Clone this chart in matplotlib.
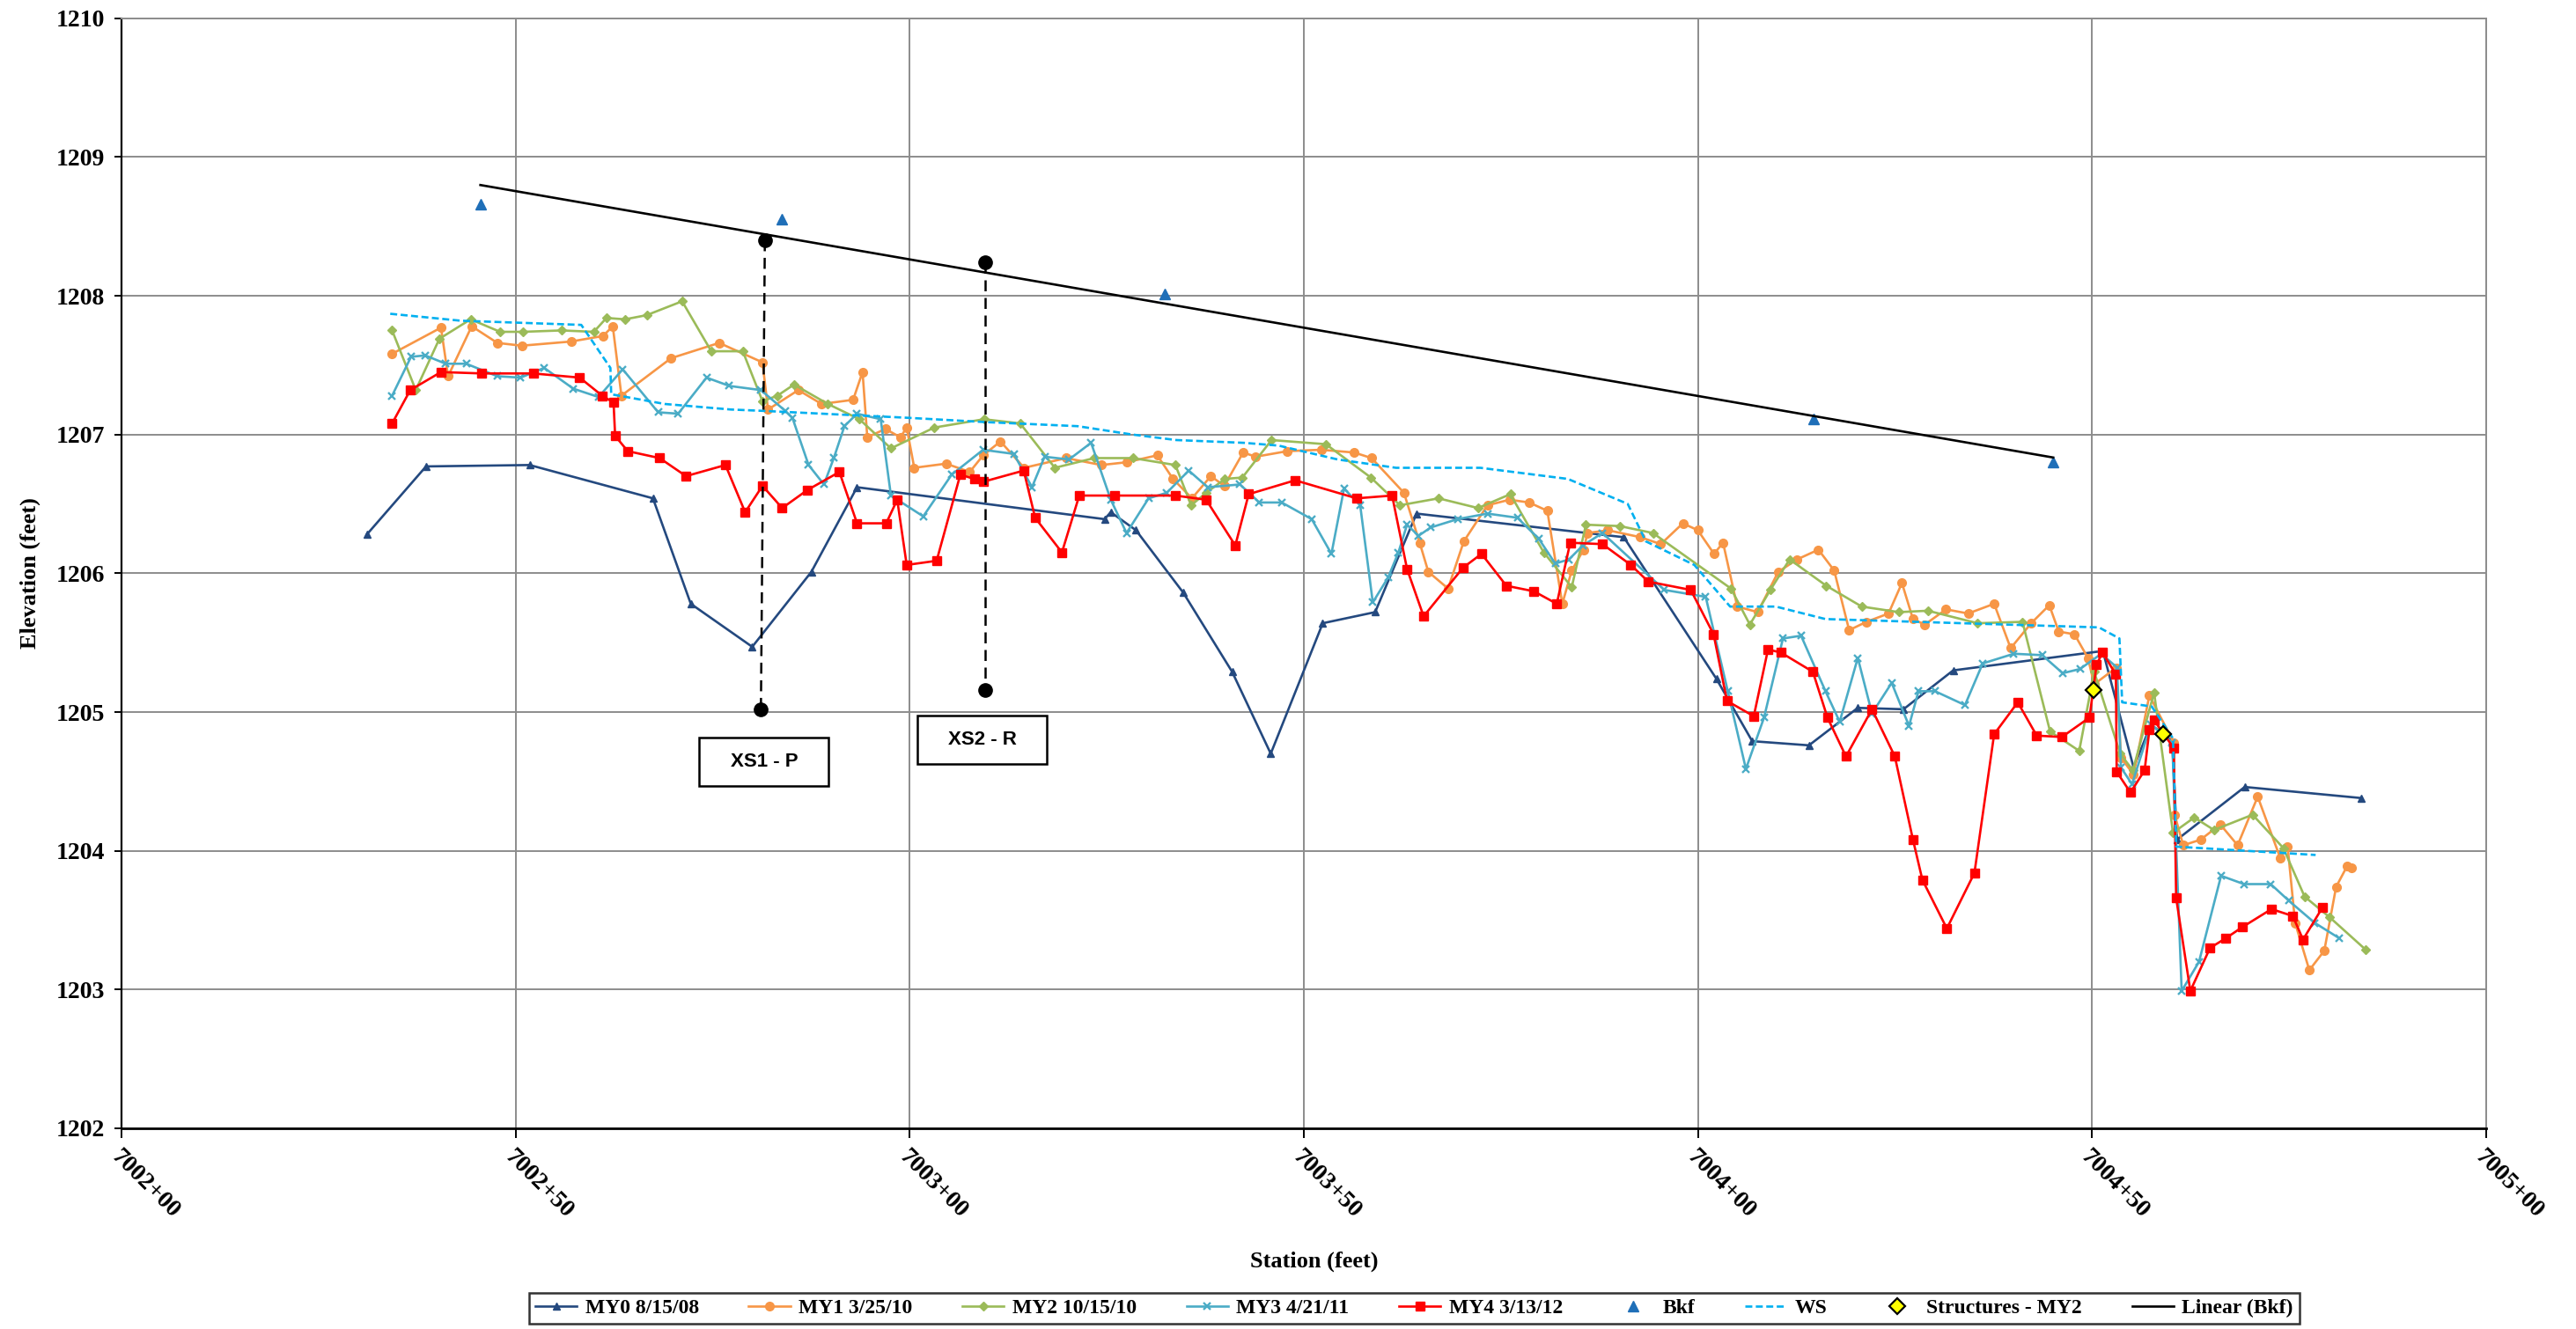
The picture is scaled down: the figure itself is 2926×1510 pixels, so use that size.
import matplotlib
matplotlib.use("Agg")
import matplotlib.pyplot as plt
from matplotlib.patches import Rectangle
from matplotlib.ticker import FuncFormatter, MultipleLocator
import numpy as np

# stations are feet past 7002+00
STA0 = 700200

my0_sta = [31.1, 38.6, 51.75, 67.4, 72.2, 80.0, 87.5, 93.3, 124.7, 125.5, 128.7, 134.7,
           140.9, 145.8, 152.4, 159.05, 164.3, 190.6, 202.35, 206.9, 214.1, 220.3, 226.1,
           232.4, 251.4, 255.3, 257.5, 260.2, 260.8, 269.4, 284.2]
my0_elev = [1206.28, 1206.77, 1206.78, 1206.54, 1205.78, 1205.47, 1206.01, 1206.62, 1206.39,
            1206.44, 1206.31, 1205.86, 1205.29, 1204.70, 1205.64, 1205.72, 1206.43, 1206.26,
            1205.24, 1204.79, 1204.76, 1205.03, 1205.02, 1205.30, 1205.44, 1204.60, 1204.91,
            1204.79, 1204.08, 1204.46, 1204.38]

my1_sta = [34.25, 40.5, 41.4, 44.4, 47.65, 50.75, 57.0, 61.06, 62.3, 63.4, 69.7, 75.8, 81.3,
           82.0, 85.85, 88.8, 92.8, 94.0, 94.6, 96.9, 98.8, 99.6, 100.56, 104.6, 107.6, 109.3,
           111.5, 114.5, 119.85, 124.3, 127.5, 131.4, 133.4, 135.8, 138.2, 139.9, 142.3, 143.9,
           147.9, 152.2, 156.4, 158.6, 162.7, 164.7, 165.8, 168.3, 170.3, 173.3, 176.1, 178.6,
           180.9, 182.8, 184.0, 185.5, 186.0, 188.6, 192.7, 195.3, 198.1, 200.0, 202.05, 203.2,
           205.0, 207.6, 210.2, 212.6, 215.3, 217.3, 219.2, 221.4, 224.2, 225.9, 227.3, 228.8,
           231.5, 234.3, 237.6, 239.7, 242.3, 244.6, 245.8, 247.8, 249.5, 250.3, 253.1, 253.7,
           255.3, 257.3, 260.4, 260.5, 261.6, 263.8, 266.3, 268.5, 271.05, 273.9, 274.85, 275.8,
           277.6, 279.5, 281.0, 282.4, 283.0]
my1_elev = [1207.58, 1207.77, 1207.42, 1207.78, 1207.66, 1207.64, 1207.67, 1207.71, 1207.78,
            1207.28, 1207.55, 1207.66, 1207.52, 1207.18, 1207.32, 1207.22, 1207.25, 1207.45,
            1206.98, 1207.04, 1206.98, 1207.05, 1206.76, 1206.79, 1206.73, 1206.85, 1206.95,
            1206.76, 1206.83, 1206.78, 1206.80, 1206.85, 1206.68, 1206.54, 1206.70, 1206.63,
            1206.87, 1206.84, 1206.88, 1206.89, 1206.87, 1206.83, 1206.58, 1206.22, 1206.01,
            1205.89, 1206.23, 1206.49, 1206.53, 1206.51, 1206.45, 1205.78, 1206.02, 1206.17,
            1206.29, 1206.31, 1206.26, 1206.21, 1206.36, 1206.31, 1206.14, 1206.22, 1205.76,
            1205.72, 1206.01, 1206.10, 1206.17, 1206.02, 1205.59, 1205.65, 1205.71, 1205.93,
            1205.67, 1205.63, 1205.74, 1205.71, 1205.78, 1205.46, 1205.64, 1205.77, 1205.58,
            1205.56, 1205.39, 1205.20, 1205.32, 1204.67, 1204.55, 1205.12, 1204.78, 1204.26,
            1204.04, 1204.08, 1204.19, 1204.04, 1204.39, 1203.95, 1204.03, 1203.48, 1203.14,
            1203.28, 1203.74, 1203.89, 1203.88]

my2_sta = [34.3, 37.3, 40.3, 44.26, 48.0, 50.9, 55.8, 59.9, 61.5, 63.85, 66.6, 71.1, 74.8,
           78.8, 81.3, 83.2, 85.3, 89.6, 93.6, 97.6, 103.1, 109.4, 114.0, 118.4, 123.4, 128.3,
           133.7, 135.7, 137.6, 140.0, 142.2, 145.9, 152.8, 158.5, 162.2, 167.1, 172.1, 176.2,
           180.45, 184.0, 185.8, 190.1, 194.3, 204.2, 206.6, 209.2, 211.65, 216.3, 220.8, 225.5,
           229.2, 235.5, 241.2, 244.7, 248.4, 250.3, 253.6, 255.2, 257.9, 260.3, 263.0, 265.5,
           270.4, 274.3, 277.0, 280.2, 284.7]
my2_elev = [1207.75, 1207.32, 1207.69, 1207.83, 1207.74, 1207.74, 1207.75, 1207.74, 1207.84,
            1207.83, 1207.86, 1207.96, 1207.60, 1207.60, 1207.24, 1207.28, 1207.36, 1207.22,
            1207.11, 1206.90, 1207.05, 1207.11, 1207.08, 1206.76, 1206.83, 1206.83, 1206.78,
            1206.49, 1206.58, 1206.68, 1206.69, 1206.96, 1206.93, 1206.69, 1206.49, 1206.54,
            1206.47, 1206.57, 1206.15, 1205.90, 1206.35, 1206.34, 1206.29, 1205.89, 1205.63,
            1205.88, 1206.10, 1205.91, 1205.76, 1205.72, 1205.73, 1205.64, 1205.65, 1204.86,
            1204.72, 1205.29, 1204.70, 1204.58, 1205.14, 1204.13, 1204.24, 1204.15, 1204.26,
            1204.02, 1203.67, 1203.52, 1203.29]

my3_sta = [34.3, 36.7, 38.5, 41.1, 43.7, 47.65, 50.6, 53.6, 57.3, 60.5, 63.56, 68.06, 70.6,
           74.2, 77.1, 81.1, 84.2, 85.1, 87.15, 89.1, 90.35, 91.7, 93.3, 96.3, 97.6, 101.7,
           105.3, 109.3, 113.2, 115.5, 117.1, 120.2, 123.0, 125.5, 127.5, 130.3, 132.6, 135.4,
           137.8, 141.9, 144.35, 147.2, 151.0, 153.5, 155.1, 157.15, 158.75, 160.7, 162.0, 163.1,
           164.55, 166.1, 169.5, 173.3, 177.1, 179.8, 181.9, 183.65, 185.4, 187.9, 195.75, 201.0,
           203.8, 206.1, 208.4, 210.8, 213.1, 216.2, 218.0, 220.3, 222.1, 224.6, 226.8, 228.0,
           230.1, 233.9, 236.15, 240.1, 243.7, 246.3, 248.5, 251.2, 253.2, 253.7, 255.1, 257.5,
           260.2, 261.4, 263.6, 266.4, 269.3, 272.7, 275.0, 278.3, 281.4]
my3_elev = [1207.28, 1207.56, 1207.57, 1207.51, 1207.51, 1207.42, 1207.41, 1207.48, 1207.33,
            1207.27, 1207.47, 1207.16, 1207.15, 1207.41, 1207.35, 1207.32, 1207.17, 1207.12,
            1206.78, 1206.64, 1206.83, 1207.06, 1207.15, 1207.11, 1206.56, 1206.41, 1206.71,
            1206.89, 1206.86, 1206.62, 1206.84, 1206.82, 1206.94, 1206.53, 1206.29, 1206.54,
            1206.58, 1206.74, 1206.62, 1206.64, 1206.51, 1206.51, 1206.39, 1206.14, 1206.61,
            1206.49, 1205.79, 1205.97, 1206.15, 1206.35, 1206.27, 1206.33, 1206.39, 1206.43,
            1206.40, 1206.25, 1206.07, 1206.10, 1206.20, 1206.29, 1205.88, 1205.83, 1205.15,
            1204.59, 1204.96, 1205.53, 1205.55, 1205.15, 1204.93, 1205.39, 1204.99, 1205.21,
            1204.90, 1205.15, 1205.15, 1205.05, 1205.35, 1205.42, 1205.41, 1205.28, 1205.31,
            1205.42, 1205.32, 1204.60, 1204.48, 1204.91, 1204.78, 1202.99, 1203.20, 1203.82,
            1203.76, 1203.76, 1203.64, 1203.48, 1203.37]

my4_sta = [34.3, 36.6, 40.5, 45.7, 52.2, 58.1, 60.95, 62.4, 62.6, 64.2, 68.25, 71.6, 76.6,
           79.1, 81.3, 83.8, 87.0, 91.06, 93.3, 97.0, 98.4, 99.6, 103.4, 106.4, 108.2, 109.35,
           114.45, 115.9, 119.3, 121.5, 126.0, 133.7, 137.6, 141.3, 143.0, 148.9, 156.7, 161.2,
           163.1, 165.2, 170.2, 172.55, 175.7, 179.2, 182.1, 183.8, 187.9, 191.5, 193.7, 199.1,
           202.0, 203.7, 207.1, 208.9, 210.5, 214.6, 216.45, 218.8, 222.1, 225.0, 227.3, 228.5,
           231.6, 235.1, 237.6, 240.6, 243.0, 246.2, 249.7, 250.6, 251.35, 253.05, 253.15, 254.9,
           256.7, 257.3, 257.9, 260.4, 260.7, 262.5, 265.0, 267.0, 269.1, 272.8, 275.5, 276.8,
           279.25]
my4_elev = [1207.08, 1207.32, 1207.45, 1207.44, 1207.44, 1207.41, 1207.28, 1207.23, 1206.99,
            1206.88, 1206.83, 1206.70, 1206.78, 1206.44, 1206.63, 1206.47, 1206.60, 1206.73,
            1206.36, 1206.36, 1206.53, 1206.06, 1206.09, 1206.71, 1206.68, 1206.66, 1206.74,
            1206.40, 1206.15, 1206.56, 1206.56, 1206.56, 1206.53, 1206.20, 1206.57, 1206.67,
            1206.54, 1206.56, 1206.03, 1205.69, 1206.04, 1206.14, 1205.91, 1205.87, 1205.78,
            1206.22, 1206.21, 1206.06, 1205.94, 1205.88, 1205.56, 1205.08, 1204.97, 1205.45,
            1205.43, 1205.29, 1204.96, 1204.68, 1205.02, 1204.68, 1204.08, 1203.79, 1203.44,
            1203.84, 1204.84, 1205.07, 1204.83, 1204.82, 1204.96, 1205.34, 1205.43, 1205.27,
            1204.57, 1204.42, 1204.58, 1204.87, 1204.94, 1204.74, 1203.66, 1202.99, 1203.30,
            1203.37, 1203.45, 1203.58, 1203.53, 1203.36, 1203.59]

bkf_sta = [45.5, 83.7, 132.4, 214.7, 245.1]
bkf_elev = [1208.66, 1208.55, 1208.01, 1207.11, 1206.80]

ws_sta = [34.06, 43.0, 58.3, 62.0, 62.1, 68.9, 77.3, 81.5, 99.9, 109.4, 121.3, 128.2, 133.8,
          142.4, 146.8, 154.3, 161.7, 172.4, 183.5, 191.1, 193.4, 199.55, 204.1, 209.9, 216.2,
          250.9, 253.5, 253.85, 257.6, 260.3, 260.7, 278.4]
ws_elev = [1207.87, 1207.82, 1207.79, 1207.48, 1207.29, 1207.22, 1207.18, 1207.17, 1207.12,
           1207.09, 1207.06, 1207.00, 1206.96, 1206.94, 1206.92, 1206.82, 1206.76, 1206.76,
           1206.68, 1206.50, 1206.23, 1206.06, 1205.76, 1205.76, 1205.67, 1205.61, 1205.53,
           1205.07, 1205.04, 1204.81, 1204.03, 1203.97]

struct_sta = [250.2, 259.0]
struct_elev = [1205.16, 1204.84]

# cross-section locations
xs_labels = ["XS1 - P", "XS2 - R"]
xs_sta_top = [81.6, 109.6]
xs_sta_bot = [81.1, 109.6]
xs_elev_top = [1208.40, 1208.24]
xs_elev_bot = [1205.02, 1205.16]
xs_box_sta = [81.5, 109.2]
xs_box_elev = [1204.64, 1204.80]

SERIF = ["Liberation Serif", "DejaVu Serif"]
plt.rcParams["font.family"] = SERIF
plt.rcParams["font.weight"] = "bold"

fig = plt.figure(figsize=(29.26, 15.10), dpi=100)
ax = fig.add_axes([0.0473, 0.1510, 0.9177, 0.8353])

lw = 1.9
ax.plot(my0_sta, my0_elev, color="#24497F", lw=lw, marker="^", ms=6, label="MY0 8/15/08")
ax.plot(my1_sta, my1_elev, color="#F79646", lw=lw, marker="o", ms=7, label="MY1 3/25/10")
ax.plot(my2_sta, my2_elev, color="#9BBB59", lw=lw, marker="D", ms=4.8, label="MY2 10/15/10")
ax.plot(my3_sta, my3_elev, color="#4BACC6", lw=lw, marker="x", ms=6, mew=1.7, label="MY3 4/21/11")
ax.plot(my4_sta, my4_elev, color="#FF0000", lw=lw, marker="s", ms=6.5, label="MY4 3/13/12")
ax.plot(bkf_sta, bkf_elev, ls="none", color="#1F6FB8", marker="^", ms=8, label="Bkf")
ax.plot(ws_sta, ws_elev, color="#00B0F0", lw=1.9, ls=(0, (3, 1.5)), label="WS")
ax.plot(struct_sta, struct_elev, ls="none", marker="D", ms=9, mfc="#FFFF00", mec="black",
        mew=1.6, label="Structures - MY2")

# linear trend of the bankfull points
coef = np.polyfit(bkf_sta, bkf_elev, 1)
fit_x = np.array([min(bkf_sta), max(bkf_sta)])
ax.plot(fit_x, np.polyval(coef, fit_x), color="black", lw=1.9, label="Linear (Bkf)")

# cross-section markers
for i, name in enumerate(xs_labels):
    ax.plot([xs_sta_top[i], xs_sta_bot[i]], [xs_elev_top[i], xs_elev_bot[i]],
            color="black", lw=1.8, ls=(0, (5, 3)), zorder=6)
    ax.plot([xs_sta_top[i], xs_sta_bot[i]], [xs_elev_top[i], xs_elev_bot[i]],
            ls="none", marker="o", ms=11, color="black", zorder=7)
    bw, bh = 16.4, 0.35
    ax.add_patch(Rectangle((xs_box_sta[i] - bw / 2, xs_box_elev[i] - bh / 2), bw, bh,
                           facecolor="white", edgecolor="black", lw=1.8, zorder=8))
    ax.text(xs_box_sta[i], xs_box_elev[i], name, ha="center", va="center", fontsize=16,
            fontweight="bold", family=["Liberation Sans", "DejaVu Sans"], zorder=9)

ax.set_xlim(0, 300)
ax.set_ylim(1202, 1210)
ax.xaxis.set_major_locator(MultipleLocator(50))
ax.yaxis.set_major_locator(MultipleLocator(1))


def station_fmt(v, pos):
    s = int(round(v + STA0))
    return f"{s // 100}+{s % 100:02d}"


ax.xaxis.set_major_formatter(FuncFormatter(station_fmt))
ax.grid(True, color="#8C8C8C", lw=1.4)
ax.set_axisbelow(True)
for side in ("top", "right"):
    ax.spines[side].set_color("#8C8C8C")
    ax.spines[side].set_linewidth(1.4)
ax.spines["left"].set_linewidth(1.6)
ax.spines["bottom"].set_linewidth(2.0)

ax.tick_params(axis="y", direction="out", length=6, width=1.4, labelsize=20, pad=8)
ax.tick_params(axis="x", direction="out", length=8, width=1.4, labelsize=20, pad=6)
for lab in ax.get_xticklabels():
    lab.set_rotation(-45)
    lab.set_ha("left")
    lab.set_va("top")
    lab.set_rotation_mode("anchor")
for lab in ax.get_xticklabels() + ax.get_yticklabels():
    lab.set_fontweight("bold")

fig.text(0.0116, 0.5689, "Elevation (feet)", rotation=90, ha="center", va="center",
         fontsize=19, fontweight="bold")
fig.text(0.5103, 0.0510, "Station (feet)", ha="center", va="center",
         fontsize=19, fontweight="bold")

leg = fig.legend(loc="center", bbox_to_anchor=(0.549, 0.0156), ncol=9,
                 frameon=True, fancybox=False, edgecolor="black", handlelength=2.0,
                 columnspacing=2.4, handletextpad=0.4, borderpad=0.3,
                 prop={"family": SERIF, "weight": "bold", "size": 17})
leg.get_frame().set_linewidth(1.8)

fig.savefig("out.png", dpi=100, facecolor="white")
